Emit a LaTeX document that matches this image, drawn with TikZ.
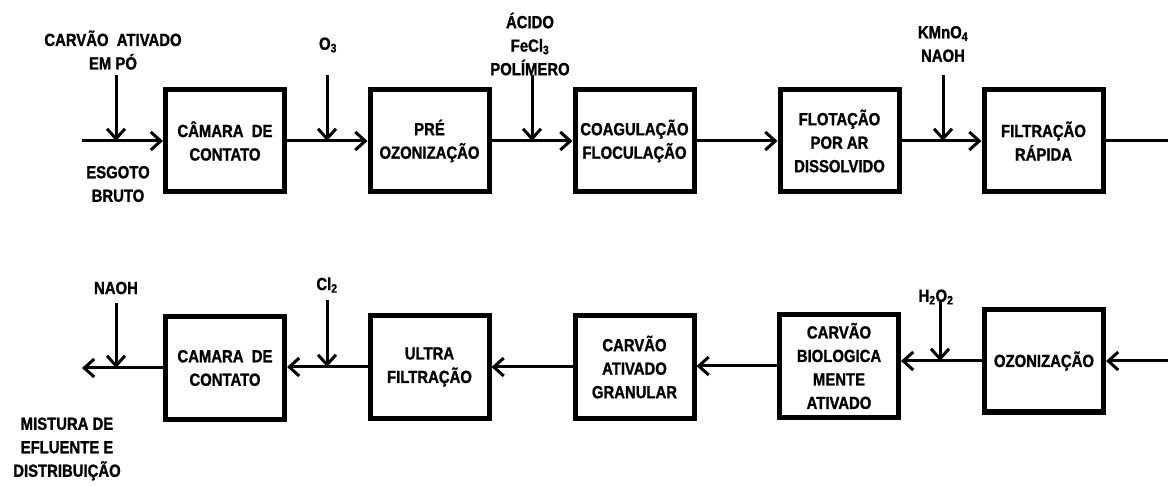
\documentclass[tikz,border=0pt]{standalone}
\usepackage{fontspec}
\setmainfont{Liberation Sans}[FakeStretch=0.85,BoldFeatures={FakeBold=1.2}]
\usetikzlibrary{arrows.meta}
\newcommand\boxfont{\fontsize{17.5}{23.5}\selectfont\bfseries}
\begin{document}
\begin{tikzpicture}[x=1pt,y=-1pt,
  box/.style={draw,line width=5pt,minimum width=119pt,minimum height=102pt,inner sep=2pt,align=center,font=\boxfont},
  lbl/.style={align=center,font=\boxfont,inner sep=0pt},
  flow/.style={line width=3pt,-{Straight Barb[length=10pt,width=18pt]}}]
  \useasboundingbox (0,0) rectangle (1168,486);
  % upper line
  \node[box] (a1) at (225,141) {CÂMARA~~DE\\CONTATO};
  \node[box] (a2) at (429.5,141) {PRÉ\\OZONIZAÇÃO};
  \node[box] (a3) at (634.5,141) {COAGULAÇÃO\\FLOCULAÇÃO};
  \node[box] (a4) at (839.5,141) {FLOTAÇÃO\\POR AR\\DISSOLVIDO};
  \node[box] (a5) at (1043.5,141) {FILTRAÇÃO\\RÁPIDA};
  \coordinate (in) at (82,141);
  \coordinate (out) at (1168,141);
  \draw[flow] (in) -- (a1.west);
  \foreach \a/\b in {a1/a2,a2/a3,a3/a4,a4/a5}{
    \draw[flow] (\a.east) -- (\b.west);
  }
  \draw[line width=3pt] (a5.east) -- (out);
  % dosing, upper line
  \node[lbl] (carvao) at (113,50) {CARVÃO~~ATIVADO\\EM PÓ};
  \node[lbl] (othree) at (328,45) {O\textsubscript{3}};
  \node[lbl] (acido) at (530,44) {ÁCIDO\\FeCl\textsubscript{3}\\POLÍMERO};
  \node[lbl] (kmno) at (943,44) {KMnO\textsubscript{4}\\NAOH};
  \node[lbl] (esgoto) at (118,184) {ESGOTO\\BRUTO};
  \foreach \x/\n in {116/d1,327/d2,532/d3,943/d4}{
    \coordinate (\n) at (\x,75);
    \draw[flow] (\n) -- (\n |- in);
  }
  % lower line
  \node[box] (b1) at (225,368) {CAMARA~~DE\\CONTATO};
  \node[box] (b2) at (429.5,367) {ULTRA\\FILTRAÇÃO};
  \node[box] (b3) at (634.5,367) {CARVÃO\\ATIVADO\\GRANULAR};
  \node[box] (b4) at (839,366) {CARVÃO\\BIOLOGICA\\MENTE\\ATIVADO};
  \node[box] (b5) at (1044,361) {OZONIZAÇÃO};
  \coordinate (back) at (1168,361);
  \coordinate (end) at (82,368);
  \draw[flow] (back) -- (b5.east);
  \foreach \a/\b in {b5/b4,b4/b3,b3/b2,b2/b1}{
    \draw[flow] (\a.west) -- (\a.west -| \b.east);
  }
  \draw[flow] (b1.west) -- (end);
  % dosing, lower line
  \node[lbl] (naoh) at (116,288) {NAOH};
  \node[lbl] (cl) at (327,285) {Cl\textsubscript{2}};
  \node[lbl] (htwo) at (936,297) {H\textsubscript{2}O\textsubscript{2}};
  \node[lbl] (mistura) at (67,449) {MISTURA DE\\EFLUENTE E\\DISTRIBUIÇÃO};
  \foreach \x/\y/\n in {116/303/e1,327/300/e2,940/300/e3}{
    \coordinate (\n) at (\x,\y);
  }
  \draw[flow] (e1) -- (e1 |- b1.west);
  \draw[flow] (e2) -- (e2 |- b2.west);
  \draw[flow] (e3) -- (e3 |- b5.west);
\end{tikzpicture}
\end{document}
